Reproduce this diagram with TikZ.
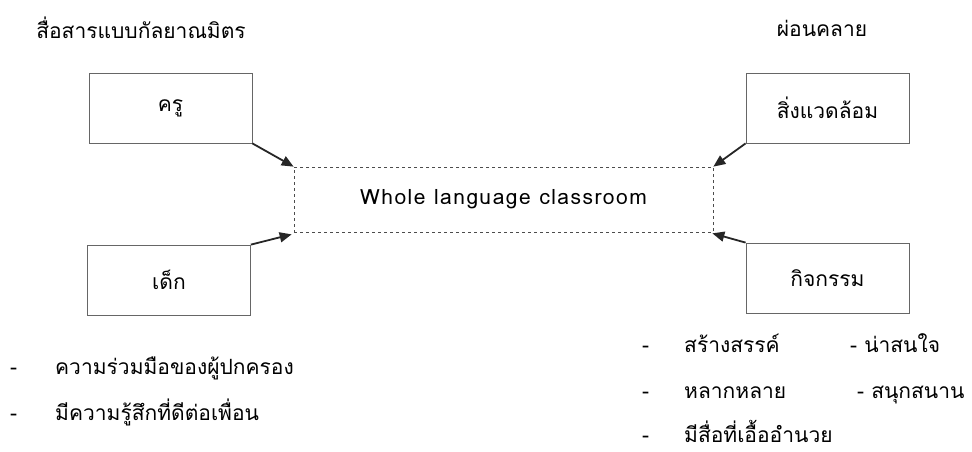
\documentclass[tikz,border=0pt]{standalone}
\usepackage{fontspec}
\setmainfont[Script=Thai]{Loma}
\usetikzlibrary{arrows.meta,positioning}

\begin{document}
\begin{tikzpicture}[x=1pt,y=-1pt,font=\fontsize{21}{25}\selectfont,
		box/.style={draw=black!60,line width=0.8pt,minimum width=163pt,minimum height=70pt,inner sep=0pt},
		hub/.style={draw=black!70,dashed,line width=0.7pt,minimum width=419pt,minimum height=65pt,
			font=\fontsize{21}{25}\selectfont\addfontfeatures{LetterSpace=7}},
		marrow/.style={-{Triangle[length=12pt,width=10pt]},line width=1.8pt,black!85},
		item/.style={anchor=base west,inner sep=0pt}]
		\useasboundingbox (0,0) rectangle (972,451);

		\node (t1) at (141,28) {สื่อสารแบบกัลยาณมิตร};
		\node (t2) at (822,28) {ผ่อนคลาย};

		\node[box] (kru) at (170.5,108) {ครู};
		\node[box] (dek) at (169,280) {เด็ก};
		\node[box] (env) at (827.5,108) {สิ่งแวดล้อม};
		\node[box] (act) at (827.5,278) {กิจกรรม};
		\node[hub] (room) at (503.5,199.5) {Whole language classroom};

		% connection
		\draw [marrow] (kru.south east) to (room.north west);
		\draw [marrow] (dek.north east) to ([shift={(-2,2)}]room.south west);
		\draw [marrow] (env.south west) to (room.north east);
		\draw [marrow] (act.north west) to ([shift={(-1,1)}]room.south east);

		% left list
		\node[item] (d1) at (10,374) {-};
		\node[item] (l1) at (55,374) {ความร่วมมือของผู้ปกครอง};
		\node[item] (d2) at (10,420) {-};
		\node[item] (l2) at (55,420) {มีความรู้สึกที่ดีต่อเพื่อน};

		% right list
		\node[item] (d3) at (642,352) {-};
		\node[item] (r1) at (684,352) {สร้างสรรค์};
		\node[item] (r2) at (850,352) {- น่าสนใจ};
		\node[item] (d4) at (642,398) {-};
		\node[item] (r3) at (684,398) {หลากหลาย};
		\node[item] (r4) at (857,398) {- สนุกสนาน};
		\node[item] (d5) at (642,442) {-};
		\node[item] (r5) at (684,442) {มีสื่อที่เอื้ออำนวย};
	\end{tikzpicture}
\end{document}
